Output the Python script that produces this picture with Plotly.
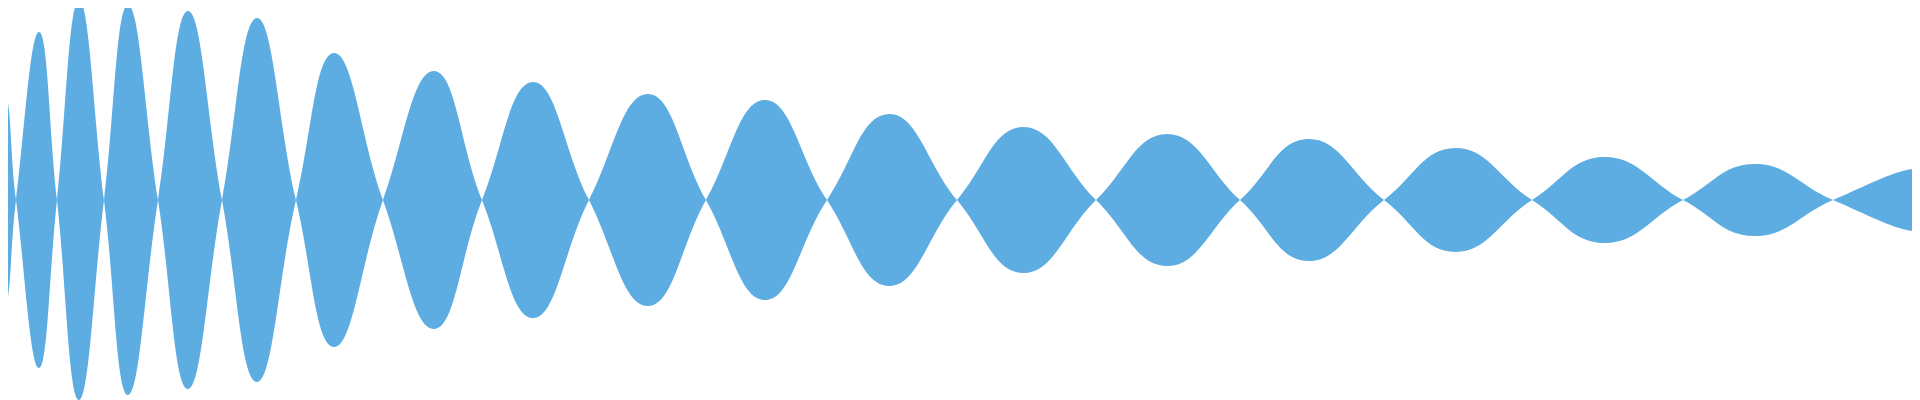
import plotly.graph_objects as go

# zero crossings and peaks of the signal (pixel units)
crossings = [16, 57, 104, 158, 222, 296, 383, 482, 589, 706, 827, 957, 1096, 1240, 1384, 1532, 1683, 1833]
peak_pos = [3, 39, 79, 128, 188, 257, 334, 434, 533, 648, 765, 889, 1023, 1167, 1308, 1455, 1604, 1754, 1912]
peak_amp = [108, 168, 200, 195, 189, 182, 147, 129, 118, 106, 100, 86, 73, 66, 61, 52, 43, 36, 31]

# signed signal: peaks alternate in sign, crossings sit at zero
xs = [-6]
ys = [95]
for i, (p, a) in enumerate(zip(peak_pos, peak_amp)):
    sign = 1 if i % 2 == 0 else -1
    xs.append(p)
    ys.append(sign * a)
    if i < len(crossings):
        xs.append(crossings[i])
        ys.append(0)
xs.append(1930)
ys.append(30)

color = "#5DADE2"
line = dict(shape="spline", smoothing=1.3, width=0, color=color)

fig = go.Figure()
fig.add_trace(go.Scatter(x=xs, y=[-v for v in ys], mode="lines", line=line, hoverinfo="skip"))
fig.add_trace(go.Scatter(x=xs, y=ys, mode="lines", fill="tonexty", fillcolor=color,
                         line=line, hoverinfo="skip"))

# the page body keeps an 8px margin, so the plot starts 8px in
fig.update_layout(width=1912, height=392, margin=dict(l=0, r=0, t=0, b=0),
                  showlegend=False, paper_bgcolor="white", plot_bgcolor="white",
                  xaxis=dict(range=[8, 1920], visible=False, fixedrange=True),
                  yaxis=dict(range=[-200, 192], visible=False, fixedrange=True))

fig.write_html("out.html")
